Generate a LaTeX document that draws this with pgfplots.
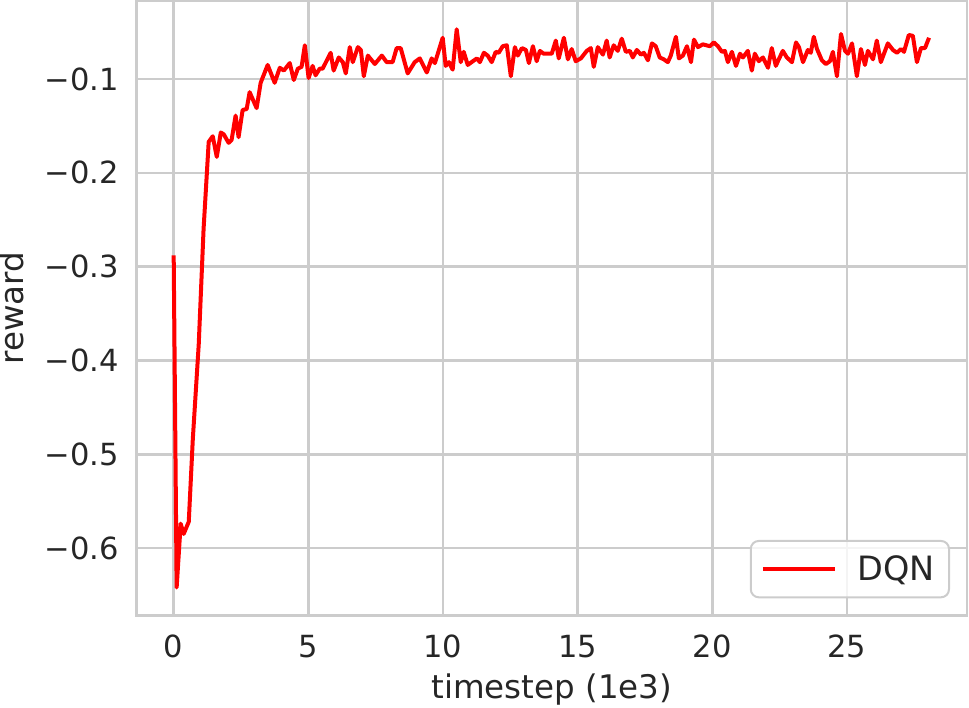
\documentclass[border=0pt]{standalone}
\usepackage{fontspec}
\setmainfont{DejaVu Sans}
\usepackage{pgfplots}
\pgfplotsset{compat=1.18}
\definecolor{gridgray}{HTML}{CCCCCC}
\definecolor{txt}{HTML}{262626}

\pgfplotstableread{
x y
0.00 -0.288
0.11 -0.642
0.26 -0.574
0.37 -0.585
0.56 -0.572
0.71 -0.484
0.93 -0.383
1.11 -0.260
1.30 -0.167
1.45 -0.161
1.60 -0.183
1.75 -0.157
1.86 -0.159
2.04 -0.168
2.15 -0.165
2.30 -0.139
2.41 -0.162
2.56 -0.133
2.71 -0.132
2.82 -0.114
3.08 -0.131
3.23 -0.104
3.49 -0.085
3.75 -0.104
3.94 -0.088
4.09 -0.091
4.31 -0.083
4.46 -0.101
4.61 -0.089
4.75 -0.087
4.87 -0.064
5.01 -0.099
5.16 -0.086
5.27 -0.096
5.42 -0.089
5.53 -0.089
5.83 -0.072
5.94 -0.091
6.13 -0.077
6.28 -0.082
6.39 -0.094
6.54 -0.066
6.65 -0.082
6.84 -0.066
6.95 -0.069
7.06 -0.097
7.21 -0.075
7.47 -0.084
7.73 -0.075
7.91 -0.082
8.13 -0.082
8.28 -0.067
8.43 -0.067
8.69 -0.094
8.95 -0.082
9.14 -0.078
9.40 -0.093
9.58 -0.078
9.70 -0.083
9.99 -0.056
10.10 -0.086
10.22 -0.082
10.36 -0.090
10.51 -0.047
10.66 -0.082
10.77 -0.071
10.92 -0.085
11.11 -0.081
11.26 -0.078
11.37 -0.082
11.52 -0.072
11.66 -0.075
11.81 -0.082
11.96 -0.071
12.07 -0.072
12.22 -0.065
12.37 -0.064
12.52 -0.097
12.67 -0.066
12.78 -0.075
12.93 -0.067
13.08 -0.069
13.19 -0.083
13.34 -0.065
13.48 -0.081
13.60 -0.070
13.74 -0.073
13.86 -0.073
14.04 -0.073
14.19 -0.059
14.30 -0.078
14.49 -0.056
14.64 -0.079
14.78 -0.068
14.93 -0.081
15.12 -0.078
15.34 -0.070
15.49 -0.067
15.60 -0.087
15.75 -0.066
15.94 -0.074
16.08 -0.059
16.19 -0.077
16.34 -0.064
16.49 -0.070
16.64 -0.057
16.79 -0.071
16.94 -0.070
17.05 -0.077
17.20 -0.069
17.35 -0.074
17.46 -0.072
17.61 -0.080
17.76 -0.062
17.90 -0.065
18.05 -0.077
18.20 -0.079
18.35 -0.082
18.46 -0.075
18.65 -0.055
18.76 -0.078
18.91 -0.075
19.06 -0.065
19.21 -0.082
19.32 -0.058
19.47 -0.066
19.65 -0.063
19.91 -0.065
20.06 -0.061
20.21 -0.065
20.36 -0.071
20.47 -0.070
20.58 -0.082
20.73 -0.071
20.88 -0.086
21.03 -0.073
21.14 -0.077
21.32 -0.070
21.47 -0.091
21.58 -0.073
21.73 -0.081
21.88 -0.077
22.07 -0.088
22.21 -0.067
22.36 -0.086
22.47 -0.079
22.62 -0.070
22.77 -0.077
22.96 -0.082
23.11 -0.061
23.22 -0.066
23.37 -0.082
23.55 -0.069
23.66 -0.072
23.77 -0.055
23.89 -0.068
24.07 -0.080
24.22 -0.084
24.37 -0.081
24.48 -0.071
24.63 -0.097
24.78 -0.052
24.93 -0.070
25.04 -0.073
25.19 -0.062
25.37 -0.097
25.52 -0.068
25.67 -0.085
25.78 -0.070
25.97 -0.079
26.11 -0.059
26.26 -0.082
26.52 -0.062
26.71 -0.069
26.86 -0.072
27.01 -0.068
27.12 -0.071
27.30 -0.053
27.45 -0.054
27.60 -0.082
27.75 -0.067
27.90 -0.067
28.05 -0.056
}\dqn

\begin{document}
\begin{tikzpicture}
\begin{axis}[
  name=ax,
  scale only axis, width=830.5pt, height=614.3pt,
  xmin=-1.381, xmax=29.46, ymin=-0.6717, ymax=-0.0168,
  xtick={0,5,10,15,20,25},
  ytick={-0.6,-0.5,-0.4,-0.3,-0.2,-0.1},
  yticklabels={−0.6,−0.5,−0.4,−0.3,−0.2,−0.1},
  major tick length=0pt,
  /pgf/number format/assume math mode=true,
  grid=major, grid style={gridgray, line width=2.6pt},
  axis line style={gridgray, line width=2.6pt},
  tick label style={font=\fontsize{30.5}{36}\selectfont, text=txt},
  xticklabel style={yshift=-16pt},
  yticklabel style={xshift=-14pt},
  label style={font=\fontsize{32.5}{39}\selectfont, text=txt},
  xlabel={timestep (1e3)}, ylabel={reward},
  xlabel style={at={([yshift=-74pt]axis description cs:0.5,0)}, anchor=center},
  ylabel style={at={([xshift=-125pt]axis description cs:0,0.5)}, anchor=center},
  legend style={at={(1,0)}, xshift=-17pt, yshift=17pt, anchor=south east,
    draw=gridgray, line width=2pt, rounded corners=8pt,
    fill=white, fill opacity=0.8, text opacity=1,
    font=\fontsize{33.5}{40}\selectfont, text=txt,
    inner xsep=10pt, inner ysep=9pt, column sep=17pt,
    nodes={inner xsep=4pt, inner ysep=6pt}},
  legend image code/.code={\draw[#1, line width=4pt] (0pt,0pt) -- (72pt,0pt);},
  legend cell align=left,
]
\addplot[red, line width=4pt, line join=round] table[x=x, y=y] {\dqn};
\addlegendentry{DQN}
\end{axis}
\pgfresetboundingbox
\path[use as bounding box] ([xshift=-136.5pt,yshift=-92.7pt]ax.south west)
  rectangle ([xshift=2pt,yshift=1pt]ax.north east);
\end{tikzpicture}
\end{document}
